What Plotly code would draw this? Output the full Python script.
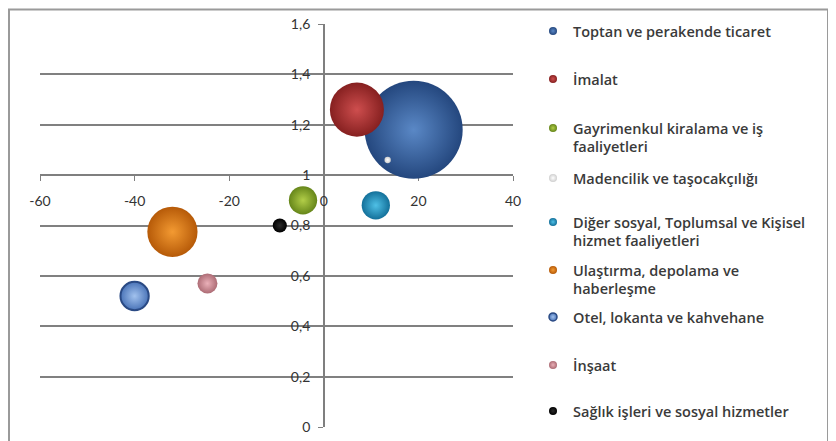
import plotly.graph_objects as go

# ---- data ----
sectors = [
    "Toptan ve perakende ticaret",
    "İmalat",
    "Gayrimenkul kiralama ve iş<br>faaliyetleri",
    "Madencilik ve taşocakçılığı",
    "Diğer sosyal, Toplumsal ve Kişisel<br>hizmet faaliyetleri",
    "Ulaştırma, depolama ve<br>haberleşme",
    "Otel, lokanta ve kahvehane",
    "İnşaat",
    "Sağlık işleri ve sosyal hizmetler",
]
x_values = [19, 7, -4.4, 13.5, 11, -32, -40, -24.6, -9.3]
y_values = [1.18, 1.26, 0.90, 1.06, 0.88, 0.775, 0.52, 0.57, 0.80]
bubble_sizes = [24, 7.3, 2.0, 0.1, 2.0, 6.3, 2.0, 1.0, 0.5]

x_tick_vals = [-60, -40, -20, 0, 20, 40]
x_tick_text = ["-60", "-40", "-20", "0", "20", "40"]
y_tick_vals = [0, 0.2, 0.4, 0.6, 0.8, 1.0, 1.2, 1.4, 1.6]
y_tick_text = ["0", "0,2", "0,4", "0,6", "0,8", "1", "1,2", "1,4", "1,6"]

# ---- styles ----
edge_colors = ["#24477E", "#862020", "#66861A", "#CFCFCF", "#13709A",
               "#B65A08", "#4A74B8", "#AD6C75", "#000000"]
center_colors = ["#5A88C6", "#CE4E4E", "#B2CE48", "#FFFFFF", "#4FC0E6",
                 "#F39A32", "#A2C2EE", "#EAB0B8", "#2C2C2C"]
outline_colors = [None, None, None, None, None, None, "#2A4A84", None, None]
legend_text_y = [31, 79, 128, 178, 222, 270, 317, 365, 411]  # screen px

OFF = 8  # page body margin
W, H = 836 - OFF, 441 - OFF
L, T = 40 - OFF, 24 - OFF
PW, PH = 473, 403
R, B = W - L - PW, H - T - PH
XMIN, XMAX, YMIN, YMAX = -60, 40, 0, 1.6


def px_x(sx):
    return (sx - OFF - L) / PW


def px_y(sy):
    return (H - B - (sy - OFF)) / PH


max_d = 98
sizeref = 2 * max(bubble_sizes) / max_d ** 2

fig = go.Figure()
for i, name in enumerate(sectors):
    lg = "legend" if i == 0 else f"legend{i+1}"
    line = dict(width=2, color=outline_colors[i]) if outline_colors[i] else dict(width=0)
    fig.add_trace(go.Scatter(
        x=[x_values[i]], y=[y_values[i]], mode="markers",
        marker=dict(size=[bubble_sizes[i]], sizemode="area", sizeref=sizeref,
                    color=edge_colors[i], line=line, opacity=1,
                    gradient=dict(type="radial", color=center_colors[i])),
        name=name, showlegend=False, hoverinfo="skip"))
    lline = dict(width=1.5, color=outline_colors[i]) if outline_colors[i] else dict(width=0)
    fig.add_trace(go.Scatter(
        x=[None], y=[None], mode="markers",
        marker=dict(size=8, color=edge_colors[i], line=lline, opacity=1,
                    gradient=dict(type="radial", color=center_colors[i])),
        name=name, showlegend=True, legend=lg))

layout_legends = {}
for i in range(len(sectors)):
    key = "legend" if i == 0 else f"legend{i+1}"
    layout_legends[key] = dict(
        x=px_x(533), xanchor="left",
        y=px_y(legend_text_y[i] - 16), yanchor="top",
        bgcolor="rgba(0,0,0,0)", borderwidth=0,
        font=dict(family="Open Sans", size=14.5, color="#3A3A3A", weight=600),
        valign="top", itemclick=False, itemdoubleclick=False)

fig.update_layout(
    width=W, height=H,
    margin=dict(l=L, r=R, t=T, b=B, autoexpand=False),
    paper_bgcolor="white", plot_bgcolor="white",
    separators=",.",
    xaxis=dict(range=[XMIN, XMAX], anchor="free", automargin=False,
               position=(1.0 - YMIN) / (YMAX - YMIN),
               tickvals=x_tick_vals, ticktext=x_tick_text,
               showgrid=False, zeroline=False,
               showline=True, linecolor="#7F7F7F", linewidth=1.5,
               ticks="outside", ticklen=5, tickcolor="#7F7F7F", tickwidth=1,
               ticklabelstandoff=8,
               tickfont=dict(family="Lato", size=14, color="#333333"),
               layer="below traces"),
    yaxis=dict(range=[YMIN, YMAX], anchor="free", automargin=False,
               position=(0 - XMIN) / (XMAX - XMIN),
               tickvals=y_tick_vals, ticktext=y_tick_text,
               showgrid=True, gridcolor="#808080", gridwidth=1.5,
               zeroline=False,
               showline=True, linecolor="#7F7F7F", linewidth=1.5,
               ticks="outside", ticklen=5, tickcolor="#7F7F7F",
               ticklabelstandoff=5,
               tickfont=dict(family="Lato", size=14, color="#333333"),
               layer="below traces"),
    **layout_legends,
)

# outer chart frame
fig.add_shape(type="rect", xref="paper", yref="paper",
              x0=px_x(9), x1=px_x(828),
              y0=px_y(470), y1=px_y(9.5),
              line=dict(color="#9A9A9A", width=2), fillcolor="rgba(0,0,0,0)",
              layer="below")

fig.write_html("out.html")
